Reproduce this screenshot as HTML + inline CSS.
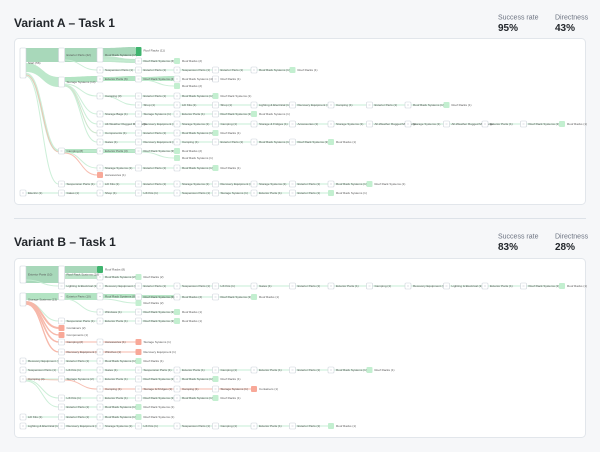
<!DOCTYPE html>
<html><head><meta charset="utf-8"><style>
html,body{margin:0;padding:0;background:#f6f7f9;}
svg{display:block;font-family:"Liberation Sans",sans-serif;}
</style></head><body>
<svg id="s" width="600" height="452" viewBox="0 0 600 452" xmlns="http://www.w3.org/2000/svg">
<rect width="600" height="452" fill="#f6f7f9"/>
<text x="14" y="27" font-size="12" font-weight="bold" fill="#22262b">Variant A – Task 1</text>
<text x="498" y="19.5" font-size="7" fill="#6b7280">Success rate</text>
<text x="498" y="31" font-size="10" font-weight="bold" fill="#22262b">95%</text>
<text x="555" y="19.5" font-size="7" fill="#6b7280">Directness</text>
<text x="555" y="31" font-size="10" font-weight="bold" fill="#22262b">43%</text>
<rect x="14.5" y="38.5" width="571" height="166" rx="4" fill="#fff" stroke="#e2e6eb"/>
<line x1="14" y1="218.5" x2="586" y2="218.5" stroke="#dde2e8"/>
<text x="14" y="246" font-size="12" font-weight="bold" fill="#22262b">Variant B – Task 1</text>
<text x="498" y="238.5" font-size="7" fill="#6b7280">Success rate</text>
<text x="498" y="250" font-size="10" font-weight="bold" fill="#22262b">83%</text>
<text x="555" y="238.5" font-size="7" fill="#6b7280">Directness</text>
<text x="555" y="250" font-size="10" font-weight="bold" fill="#22262b">28%</text>
<rect x="14.5" y="258.5" width="571" height="179" rx="4" fill="#fff" stroke="#e2e6eb"/>
<g id="links"></g><g id="nodes"></g>
</svg>
<script>
var NS="http://www.w3.org/2000/svg";
var L=document.getElementById('links'),N=document.getElementById('nodes');
function cx(c){return 20+38.5*c;}
function el(p,t,a,txt){var e=document.createElementNS(NS,t);for(var k in a)e.setAttribute(k,a[k]);if(txt)e.textContent=txt;p.appendChild(e);return e;}
function curve(x1,y1,x2,y2,col,w){var m=(x1+x2)/2;el(L,'path',{d:'M'+x1+' '+y1+' C'+m+' '+y1+' '+m+' '+y2+' '+x2+' '+y2,fill:'none',stroke:col,'stroke-width':w||1,'stroke-opacity':0.9});}
function band(x1,a1,b1,x2,a2,b2,col){var m=(x1+x2)/2;el(L,'path',{d:'M'+x1+' '+a1+' C'+m+' '+a1+' '+m+' '+a2+' '+x2+' '+a2+' L'+x2+' '+b2+' C'+m+' '+b2+' '+m+' '+b1+' '+x1+' '+b1+'Z',fill:col});}
function box(c,y1,y2,label,type){var x=cx(c);
 var f=type=='g'?'#c3efd0':type=='r'?'#f8a898':type=='d'?'#3fb46e':'#fff';
 var st=type?'none':'#cdd2da';
 el(N,'rect',{x:x,y:y1,width:6,height:y2-y1,rx:1,fill:f,stroke:st,'stroke-width':0.6});
 if(!type&&y2-y1<8)el(N,'line',{x1:x+2,y1:(y1+y2)/2,x2:x+4,y2:(y1+y2)/2,stroke:'#aab',"stroke-width":0.4});
 el(N,'text',{x:x+8,y:(type=='d'?y1+4.5:(y1+y2)/2+1),'font-size':3,fill:'#555'},label);}
var G='#c6edd4',R='#f6b7a8';
function row(y,c0,labels,end,parent,col,w){col=col||G;
 if(parent)curve(cx(parent[0])+6,parent[1],cx(c0),y,col,w||1);
 for(var i=0;i<labels.length;i++){var c=c0+i;
  if(i<labels.length-1)el(L,'line',{x1:cx(c)+6,y1:y,x2:cx(c+1),y2:y,stroke:col,'stroke-width':w||1});
  var t=(i==labels.length-1)?end:null;
  box(c,y-3,y+3,labels[i],t);}}
band(26,48,62,59,48,62,'#a8d8ba');band(65,48,62,97,48,62,'#a8d8ba');band(103,48,56,135,47,56,'#a8d8ba');
band(103,56,62,135,59,63,'#bfe6cc');
band(26,63,72,59,77,87,'#bde8cb');
band(65,77,82,97,76,82,'#b3e4c3');band(103,77,81,135,76,81,'#b3e4c3');band(141,77,81,174,76,81,'#b9e7c8');
row(61,3,["Roof Rack Systems (4)","Roof Racks (2)"],'g',[2,60]);
row(70,2,["Suspension Parts (1)","Exterior Parts (1)","Suspension Parts (1)","Exterior Parts (1)","Roof Rack Systems (1)","Roof Racks (1)"],'g',[1,60]);
row(79,5,["Roof Racks (1)"],null,null);
row(86,4,["Roof Racks (2)"],'g',[3,80]);
row(96,2,["Camping (3)","Exterior Parts (1)","Roof Rack Systems (1)","Roof Rack Systems (1)"],'g',[1,84]);
row(105,3,["Shop (1)","Lift Kits (1)","Shop (1)","Lighting & Electrical (1)","Recovery Equipment (1)","Camping (1)","Exterior Parts (1)","Roof Rack Systems (1)","Roof Racks (1)"],'g',[2,96]);
row(114,2,["Storage Bags (1)","Storage Systems (1)","Exterior Parts (1)","Roof Rack Systems (1)","Roof Rack Systems (1)"],'g',[1,85]);
row(124,2,["All-Weather Rugged Mat Cargo","Recovery Equipment (1)","Storage Systems (1)","Camping (1)","Storage & Fridges (1)","Accessories (1)","Storage Systems (1)","All-Weather Rugged Mat Cargo","Storage Systems (1)","All-Weather Rugged Mat Cargo","Exterior Parts (1)","Roof Rack Systems (1)","Roof Racks (1)"],'g',[1,85]);
curve(65,86,97,133,R,0.8);
row(133,2,["Components (1)","Exterior Parts (1)","Roof Rack Systems (1)","Roof Racks (1)"],'g',[1,86]);
row(142,2,["Gates (1)","Recovery Equipment (1)","Camping (1)","Exterior Parts (1)","Roof Rack Systems (1)","Roof Rack Systems (1)","Roof Racks (1)"],'g',[1,86]);
curve(26,74,59,151,G,2.5);curve(26,75,59,152,R,0.8);
band(65,149,153,97,149,153,'#b3e4c3');band(103,149,153,135,149,153,'#b3e4c3');
row(151,1,["Camping (8)","Exterior Parts (3)","Roof Rack Systems (3)","Roof Racks (2)"],'g',null);
row(158,4,["Roof Rack Systems (1)"],'g',[3,152]);
row(168,2,["Storage Systems (1)","Exterior Parts (1)","Roof Rack Systems (1)","Roof Racks (1)"],'g',[1,152]);
row(175,2,["Accessories (1)"],'r',[1,153],R);
row(184,1,["Suspension Parts (1)","Lift Kits (1)","Exterior Parts (1)","Storage Systems (1)","Recovery Equipment (1)","Storage Systems (1)","Exterior Parts (1)","Roof Rack Systems (1)","Roof Rack Systems (1)"],'g',[0,76]);
row(193,0,["Electric (1)","Gates (1)","Shop (1)","Lift Kits (1)","Suspension Parts (1)","Storage Systems (1)","Exterior Parts (1)","Exterior Parts (1)","Roof Rack Systems (1)"],'g',null);
box(0,48,78,"Start (56)",null);box(1,48,62,"Exterior Parts (22)",null);box(2,48,62,"Roof Rack Systems (15)",null);box(3,47,56,"Roof Racks (11)",'d');
box(1,77,87,"Storage Systems (14)",null);box(2,76,82,"Exterior Parts (6)",null);box(3,76,82,"Roof Rack Systems (4)",null);box(4,76,82,"Roof Rack Systems (4)",null);
band(26,266,283,59,266,283,'#a8d8ba');band(65,266,273,97,266,273,'#a8d8ba');band(65,274,279,97,275,279,'#bfe6cc');
band(26,293,300,59,293,300,'#b3e4c3');band(65,293,300,97,293,300,'#b3e4c3');band(103,294,298,135,294,298,'#b3e4c3');band(141,295,298,174,295,298,'#b9e7c8');
row(277,2,["Roof Rack Systems (2)","Roof Racks (2)"],'g',null);
row(286,1,["Lighting & Electrical (1)","Recovery Equipment (1)","Exterior Parts (1)","Suspension Parts (1)","Lift Kits (1)","Gates (1)","Exterior Parts (1)","Exterior Parts (1)","Camping (1)","Recovery Equipment (1)","Lighting & Electrical (1)","Exterior Parts (1)","Roof Rack Systems (1)","Roof Racks (1)"],'g',[0,280]);
row(297,4,["Roof Racks (4)","Roof Rack Systems (1)","Roof Racks (1)"],'g',null);
row(303,3,["Roof Racks (2)"],'g',[2,299]);
row(312,2,["Windows (1)","Roof Rack Systems (1)","Roof Racks (1)"],'g',[1,299]);
row(321,1,["Suspension Parts (1)","Exterior Parts (1)","Roof Rack Systems (1)","Roof Racks (1)"],'g',[0,302]);
curve(26,302,59,328,R,2);curve(26,303,59,335,R,1.2);
row(328,1,["Containers (2)"],'r',[0,302],R,1.5);
row(335,1,["Components (1)"],'r',[0,303],R);
curve(26,303,59,342,R,1.5);
row(342,1,["Camping (2)","Accessories (1)","Storage Systems (1)"],'r',[0,304],R);
curve(26,304,59,352,R,1.2);
row(352,1,["Recovery Equipment (1)","Winches (1)","Recovery Equipment (1)"],'r',[0,304],R);
row(361,0,["Recovery Equipment (1)","Exterior Parts (1)","Roof Rack Systems (1)","Roof Racks (1)"],'g',null);
row(370,0,["Suspension Parts (1)","Lift Kits (1)","Gates (1)","Suspension Parts (1)","Exterior Parts (1)","Camping (1)","Exterior Parts (1)","Exterior Parts (1)","Roof Rack Systems (1)","Roof Racks (1)"],'g',null);
row(379,0,["Camping (4)","Storage Systems (2)","Exterior Parts (1)","Roof Rack Systems (1)","Roof Rack Systems (1)","Roof Racks (1)"],'g',null);
row(389,2,["Camping (1)","Storage & Fridges (1)","Camping (1)","Storage Systems (1)","Containers (1)"],'r',[1,380],R);
curve(26,379,59,380,R,0.8);
row(398,1,["Lift Kits (1)","Exterior Parts (1)","Roof Rack Systems (1)","Roof Rack Systems (1)","Roof Racks (1)"],'g',[0,380]);
row(407,1,["Exterior Parts (1)","Roof Rack Systems (1)","Roof Rack Systems (1)"],'g',[0,381]);
row(417,0,["Lift Kits (1)","Exterior Parts (1)","Roof Rack Systems (1)","Roof Rack Systems (1)"],'g',null);
row(426,0,["Lighting & Electrical (1)","Recovery Equipment (1)","Storage Systems (1)","Lift Kits (1)","Suspension Parts (1)","Camping (1)","Exterior Parts (1)","Exterior Parts (1)","Roof Racks (1)"],'g',null);
box(0,266,283,"Exterior Parts (10)",null);box(1,266,283,"Roof Rack Systems (10)",null);box(2,266,273,"Roof Racks (8)",'d');
box(0,293,306,"Storage Systems (13)",null);box(1,293,300,"Exterior Parts (10)",null);box(2,293,300,"Roof Rack Systems (8)",null);box(3,294,300,"Roof Rack Systems (6)",null);
</script>
</body></html>
